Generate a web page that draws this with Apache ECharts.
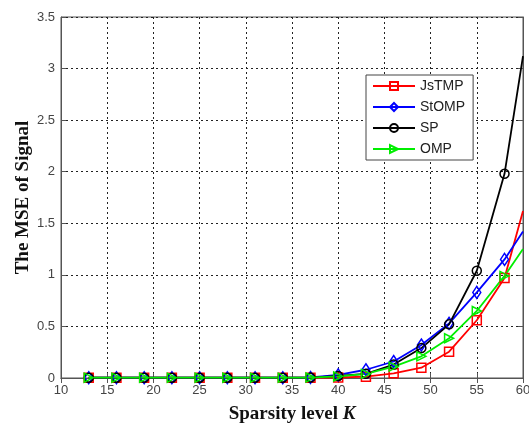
<!DOCTYPE html>
<html><head><meta charset="utf-8">
<script src="https://cdn.jsdelivr.net/npm/echarts@6/dist/echarts.min.js"></script>
<style>html,body{margin:0;padding:0;background:#fff}#c{width:529px;height:424px}</style>
</head><body><div id="c"></div>
<script>
const kValues = [13,16,19,22,25,28,31,34,37,40,43,46,49,52,55,58,60];
const jstmp = [0.003,0.003,0.003,0.003,0.003,0.003,0.003,0.003,0.003,0.005,0.013,0.045,0.10,0.255,0.56,0.97,1.62];
const stomp = [0.003,0.003,0.003,0.003,0.003,0.003,0.003,0.003,0.005,0.03,0.08,0.16,0.32,0.53,0.83,1.15,1.42];
const sp    = [0.003,0.003,0.003,0.003,0.003,0.003,0.003,0.003,0.004,0.02,0.04,0.13,0.29,0.52,1.04,1.98,3.12];
const omp   = [0.003,0.003,0.003,0.003,0.003,0.003,0.003,0.003,0.004,0.015,0.04,0.11,0.21,0.385,0.65,0.99,1.25];
const xTicks = [10,15,20,25,30,35,40,45,50,55,60];
const yTicks = [0,0.5,1,1.5,2,2.5,3,3.5];

function mk(name, vals, color, symbol, rot){
  return {
    name, type:'line', data: vals.map((v,i)=> i===vals.length-1 ? {value:[kValues[i],v], symbol:'none'} : [kValues[i],v]),
    color, symbol, symbolSize: symbol==='circle'?9:(symbol==='diamond'?[8,12]:9), symbolRotate: rot||0,
    lineStyle:{color, width:1.8},
    itemStyle:{color:'rgba(255,255,255,0)', borderColor:color, borderWidth:1.5},
    showSymbol:true, clip:true, z: 2
  };
}
const chart = echarts.init(document.getElementById('c'));
const gridLine = {show:true, lineStyle:{color:'#222', type:[2,3], width:1}};
chart.setOption({
  animation:false,
  backgroundColor:'#fff',
  grid:{left:61, right:6, top:17, bottom:46, show:true, borderColor:'#555', borderWidth:1, outerBoundsMode:'none', containLabel:false},
  legend:{
    orient:'vertical', left:366, top:75, itemWidth:42, itemHeight:10, itemGap:7,
    padding:[4,8,4,6], backgroundColor:'#fff', borderColor:'#444', borderWidth:1,
    textStyle:{fontFamily:'Liberation Sans, Arial', fontSize:14, color:'#222'},
    data:['JsTMP','StOMP','SP','OMP']
  },
  xAxis:[{
    type:'value', min:10, max:60, interval:5,
    axisLine:{show:true, onZero:false, lineStyle:{color:'#555'}},
    axisTick:{show:true, inside:true, length:5, lineStyle:{color:'#555'}},
    axisLabel:{color:'#444', fontFamily:'Liberation Sans, Arial', fontSize:13, margin:6,
      formatter:v=>xTicks.includes(v)?String(v):''},
    splitLine:gridLine,
    name:'Sparsity level {i|K}', nameLocation:'middle', nameGap:27, nameMoveOverlap:false,
    nameTextStyle:{fontFamily:'Liberation Serif, Times New Roman', fontWeight:'bold', fontSize:19, color:'#111',
      rich:{i:{fontFamily:'Liberation Serif, Times New Roman', fontWeight:'bold', fontStyle:'italic', fontSize:19, color:'#111'}}}
  },{
    type:'value', position:'top', min:10, max:60, interval:5,
    axisLine:{show:true, lineStyle:{color:'#555'}},
    axisTick:{show:true, inside:true, length:5, lineStyle:{color:'#555'}},
    axisLabel:{show:false}, splitLine:{show:false}
  }],
  yAxis:[{
    type:'value', min:0, max:3.5, interval:0.5,
    axisLine:{show:true, lineStyle:{color:'#555'}},
    axisTick:{show:true, inside:true, length:5, lineStyle:{color:'#555'}},
    axisLabel:{color:'#444', fontFamily:'Liberation Sans, Arial', fontSize:13, margin:6,
      formatter:v=>yTicks.includes(v)?String(v):''},
    splitLine:gridLine,
    name:'The MSE of Signal', nameLocation:'middle', nameGap:28, nameMoveOverlap:false,
    nameTextStyle:{fontFamily:'Liberation Serif, Times New Roman', fontWeight:'bold', fontSize:19, color:'#111'}
  },{
    type:'value', position:'right', min:0, max:3.5, interval:0.5,
    axisLine:{show:true, lineStyle:{color:'#555'}},
    axisTick:{show:true, inside:true, length:5, lineStyle:{color:'#555'}},
    axisLabel:{show:false}, splitLine:{show:false}
  }],
  series:[
    mk('JsTMP', jstmp, '#ff0000', 'rect'),
    mk('StOMP', stomp, '#0000ff', 'diamond'),
    mk('SP', sp, '#000000', 'circle'),
    mk('OMP', omp, '#00ee00', 'triangle', -90)
  ]
});
</script></body></html>
